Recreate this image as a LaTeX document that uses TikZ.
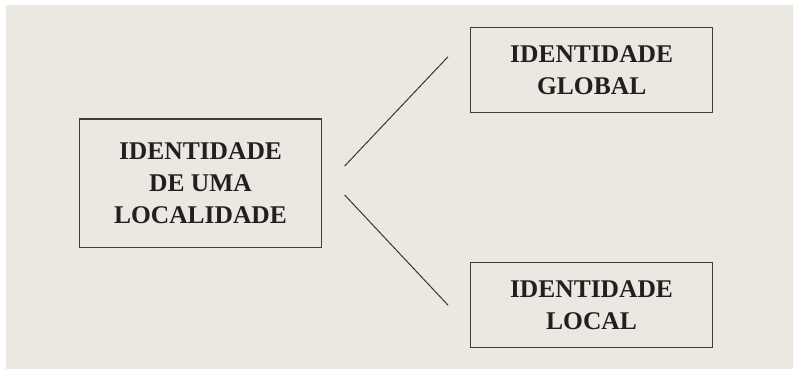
\documentclass[tikz,border=0pt]{standalone}
\usepackage{fontspec}
\setmainfont{Liberation Serif}
\definecolor{paper}{HTML}{EBE8E1}
\definecolor{frame}{HTML}{3E3C3A}
\definecolor{ink}{HTML}{231F20}
\begin{document}
\begin{tikzpicture}[x=1pt,y=-1pt,
  idbox/.style={draw=frame, line width=1.3pt, rectangle, align=center,
    text=ink, inner sep=0pt,
    font=\fontsize{25.5}{32}\selectfont\bfseries},
  link/.style={draw=ink!90, line width=1pt}]
  % page and background panel
  \useasboundingbox (0,0) rectangle (793,369);
  \fill[paper] (6,5) rectangle (793,369);

  % boxes
  \node[idbox, minimum width=242.4pt, minimum height=128.7pt] (L) at (200.5,183.3)
    {IDENTIDADE\\DE UMA\\LOCALIDADE};
  \node[idbox, minimum width=242pt, minimum height=84.6pt] (G) at (591.7,70)
    {IDENTIDADE\\GLOBAL};
  \node[idbox, minimum width=241.6pt, minimum height=85pt] (D) at (591.5,305.2)
    {IDENTIDADE\\LOCAL};

  % connectors
  \draw[link] ([xshift=22.3pt,yshift=17.3pt]L.east) -- ([xshift=-22pt,yshift=13.3pt]G.west);
  \draw[link] ([xshift=22.3pt,yshift=-11.7pt]L.east) -- ([xshift=-22pt,yshift=0pt]D.west);
\end{tikzpicture}
\end{document}
